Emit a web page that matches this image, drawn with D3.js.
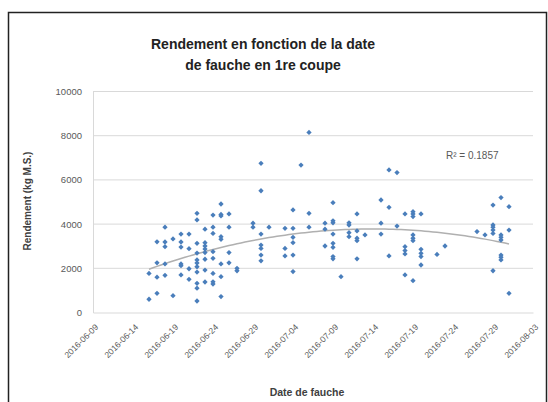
<!DOCTYPE html>
<html>
<head>
<meta charset="utf-8">
<script src="https://cdn.jsdelivr.net/npm/d3@7"></script>
<style>
  body { margin: 0; background: #fff; }
  svg { display: block; font-family: "Liberation Sans", Arial, sans-serif; }
</style>
</head>
<body>
<div id="chart"></div>
<script>
// Cutting dates (one per column of points) and the yields read at each date
const cutDates = [
  "2016-06-16", "2016-06-17", "2016-06-18", "2016-06-19", "2016-06-20",
  "2016-06-21", "2016-06-22", "2016-06-23", "2016-06-24", "2016-06-25",
  "2016-06-26", "2016-06-27", "2016-06-29", "2016-06-30", "2016-07-01",
  "2016-07-03", "2016-07-04", "2016-07-05", "2016-07-06", "2016-07-08",
  "2016-07-09", "2016-07-10", "2016-07-11", "2016-07-12", "2016-07-13",
  "2016-07-15", "2016-07-16", "2016-07-17", "2016-07-18", "2016-07-19",
  "2016-07-20", "2016-07-22", "2016-07-23", "2016-07-27", "2016-07-28",
  "2016-07-29", "2016-07-30", "2016-07-31"
];

const yieldsByDate = [
  [1770, 600],
  [3200, 2250, 1600, 870],
  [3860, 3190, 2980, 2200, 1680],
  [3330, 760],
  [3550, 3190, 2960, 2200, 2120, 1700],
  [3550, 2890, 1980, 1500],
  [4490, 4190, 3130, 2690, 2380, 2240, 2070, 1830, 1320, 1100, 520],
  [3770, 3160, 3010, 2870, 2710, 2410, 1920, 1380],
  [4410, 3860, 3580, 2750, 2450, 1770, 1390, 1290],
  [4910, 4440, 4370, 3430, 3310, 2200, 1620, 720],
  [4460, 3860, 2710, 2250],
  [2000, 1890],
  [4040, 3860],
  [6750, 5510, 3550, 3050, 2900, 2600, 2340],
  [3860],
  [3810, 2900, 2560],
  [4640, 3810, 3400, 3160, 2600, 1850],
  [6670],
  [8150, 4490, 3860],
  [4040, 3770, 3010],
  [4970, 4150, 4060, 3550, 3130, 2950, 2530, 2430],
  [1620],
  [4060, 3960, 3610, 3430],
  [4460, 3690, 3360, 3250, 2430],
  [3510],
  [5090, 4040, 3550],
  [6450, 4760, 2560],
  [6330, 3910],
  [4460, 2980, 2800, 2650, 1700],
  [4560, 4460, 4340, 3510, 3360, 3250, 1440],
  [4460, 2860, 2680, 2530, 2150],
  [2630],
  [3010],
  [3660],
  [3510],
  [4860, 3960, 3860, 3730, 3580, 1890],
  [5200, 3510, 3400, 3280, 2600, 2500, 2380],
  [4790, 3730, 870]
];

const xTickLabels = [
  "2016-06-09", "2016-06-14", "2016-06-19", "2016-06-24", "2016-06-29",
  "2016-07-04", "2016-07-09", "2016-07-14", "2016-07-19", "2016-07-24",
  "2016-07-29", "2016-08-03"
];
const yTicks = [0, 2000, 4000, 6000, 8000, 10000];
const rSquaredLabel = "R² = 0.1857";

const parse = d3.utcParse("%Y-%m-%d");
const points = [];
cutDates.forEach((d, i) => {
  yieldsByDate[i].forEach((v) => points.push({ date: parse(d), value: v }));
});

const W = 548, H = 402;
const plot = { left: 93, right: 533, top: 91.5, bottom: 312.5 };

const svg = d3.select("#chart").append("svg")
  .attr("width", W)
  .attr("height", H);

// Chart frame
svg.append("rect")
  .attr("x", 8.5)
  .attr("y", 12.5)
  .attr("width", 538)
  .attr("height", 400)
  .attr("fill", "#fff")
  .attr("stroke", "#222")
  .attr("stroke-width", 1.5);

const x = d3.scaleUtc()
  .domain([parse(xTickLabels[0]), parse(xTickLabels[xTickLabels.length - 1])])
  .range([plot.left, plot.right]);

const y = d3.scaleLinear()
  .domain([0, 10000])
  .range([plot.bottom, plot.top]);

// Gridlines
svg.append("g")
  .selectAll("line")
  .data(yTicks.filter((t) => t > 0))
  .enter()
  .append("line")
  .attr("x1", plot.left)
  .attr("x2", plot.right)
  .attr("y1", (d) => y(d))
  .attr("y2", (d) => y(d))
  .attr("stroke", "#d9d9d9")
  .attr("stroke-width", 1);

// Y axis
const yAxis = svg.append("g")
  .attr("transform", `translate(${plot.left},0)`)
  .call(d3.axisLeft(y).tickValues(yTicks).tickSize(0).tickPadding(11).tickFormat(d3.format("d")));
yAxis.select(".domain").attr("stroke", "#d9d9d9");
yAxis.selectAll("text")
  .attr("fill", "#595959")
  .attr("font-size", "9.5px")
  .attr("font-family", "Liberation Sans, Arial, sans-serif");

// X axis
const xAxis = svg.append("g")
  .attr("transform", `translate(0,${plot.bottom})`)
  .call(d3.axisBottom(x).tickValues(xTickLabels.map(parse)).tickSize(0).tickFormat(d3.utcFormat("%Y-%m-%d")));
xAxis.select(".domain").attr("stroke", "#d9d9d9");
xAxis.selectAll("text")
  .attr("fill", "#595959")
  .attr("font-size", "8.5px")
  .attr("font-family", "Liberation Sans, Arial, sans-serif")
  .attr("text-anchor", "end")
  .attr("dy", "0.35em")
  .attr("transform", "translate(1,11) rotate(-45)");

// Quadratic trend line (least squares, x in days)
const t0 = x.domain()[0];
const dayOf = (d) => (d - t0) / 864e5;
let s = [0, 0, 0, 0, 0], sy = [0, 0, 0];
points.forEach((p) => {
  const t = dayOf(p.date);
  for (let k = 0; k < 5; k++) s[k] += Math.pow(t, k);
  for (let k = 0; k < 3; k++) sy[k] += p.value * Math.pow(t, k);
});
function solve3(A, b) {
  const M = A.map((r, i) => r.concat(b[i]));
  for (let c = 0; c < 3; c++) {
    let p = c;
    for (let r = c + 1; r < 3; r++) if (Math.abs(M[r][c]) > Math.abs(M[p][c])) p = r;
    [M[c], M[p]] = [M[p], M[c]];
    for (let r = 0; r < 3; r++) {
      if (r === c) continue;
      const f = M[r][c] / M[c][c];
      for (let k = c; k < 4; k++) M[r][k] -= f * M[c][k];
    }
  }
  return M.map((r, i) => r[3] / r[i]);
}
const coef = solve3(
  [[s[0], s[1], s[2]], [s[1], s[2], s[3]], [s[2], s[3], s[4]]],
  sy
);
const tMin = d3.min(points, (p) => dayOf(p.date));
const tMax = d3.max(points, (p) => dayOf(p.date));
const trend = d3.range(tMin, tMax + 0.01, 0.5).map((t) => ({
  date: new Date(+t0 + t * 864e5),
  value: coef[0] + coef[1] * t + coef[2] * t * t
}));

svg.append("path")
  .datum(trend)
  .attr("fill", "none")
  .attr("stroke", "#b0b0b0")
  .attr("stroke-width", 1.5)
  .attr("d", d3.line().x((d) => x(d.date)).y((d) => y(d.value)));

// Points (square turned 45deg, like Excel diamond markers)
svg.append("g")
  .selectAll("path")
  .data(points)
  .enter()
  .append("path")
  .attr("transform", (d) => `translate(${x(d.date)},${y(d.value)}) rotate(45)`)
  .attr("d", d3.symbol().type(d3.symbolSquare).size(14))
  .attr("fill", "#4a7ebb");

// R² label
svg.append("text")
  .attr("x", 446)
  .attr("y", 159)
  .attr("font-size", "10px")
  .attr("fill", "#595959")
  .text(rSquaredLabel);

// Title
const title = svg.append("text")
  .attr("text-anchor", "middle")
  .attr("font-size", "14px")
  .attr("font-weight", "bold")
  .attr("fill", "#222");
title.append("tspan").attr("x", 263).attr("y", 49).text("Rendement en fonction de la date");
title.append("tspan").attr("x", 263).attr("y", 70).text("de fauche en 1re coupe");

// Axis titles
svg.append("text")
  .attr("transform", `translate(31,201) rotate(-90)`)
  .attr("text-anchor", "middle")
  .attr("font-size", "10px")
  .attr("font-weight", "bold")
  .attr("fill", "#404040")
  .text("Rendement (kg M.S.)");

svg.append("text")
  .attr("x", 307)
  .attr("y", 396)
  .attr("text-anchor", "middle")
  .attr("font-size", "10.5px")
  .attr("font-weight", "bold")
  .attr("fill", "#404040")
  .text("Date de fauche");
</script>
</body>
</html>
